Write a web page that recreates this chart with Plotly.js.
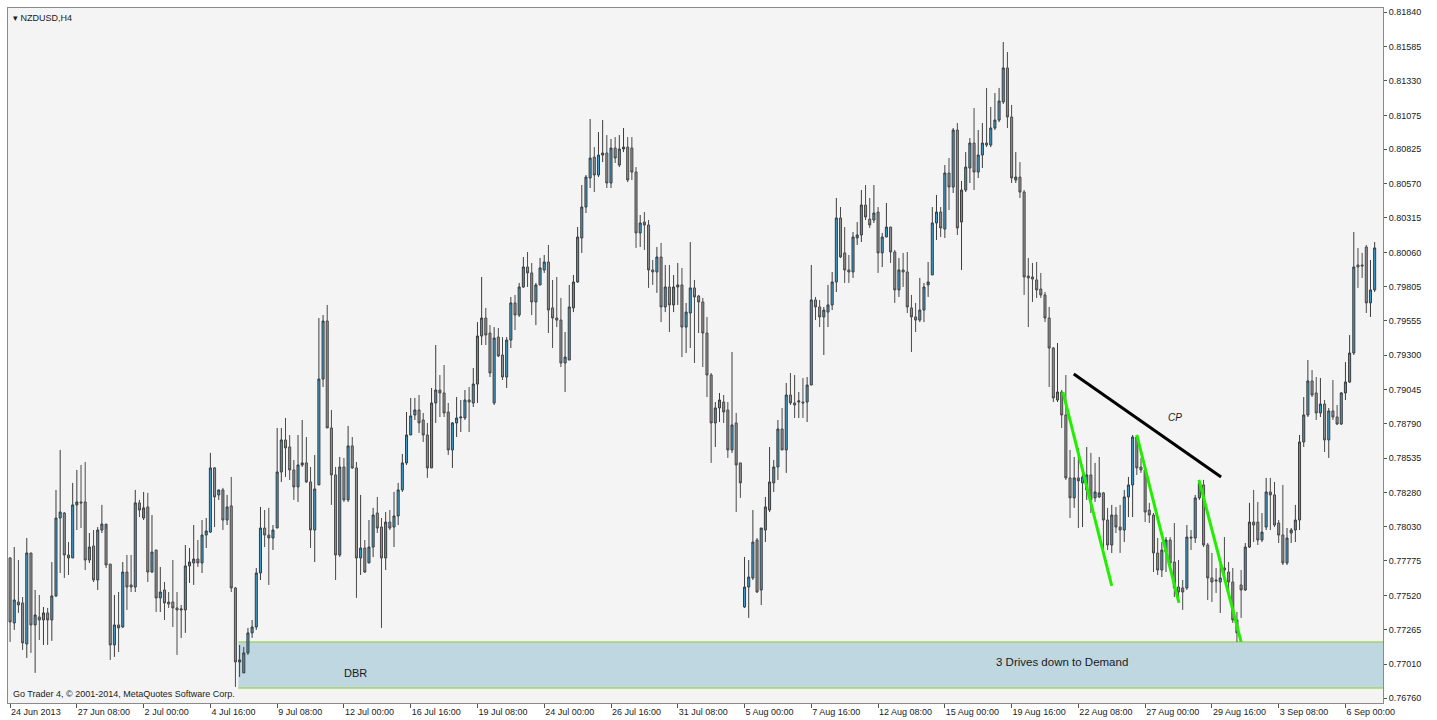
<!DOCTYPE html>
<html>
<head>
<meta charset="utf-8">
<script src="https://cdn.plot.ly/plotly-3.0.1.min.js"></script>
<style>
html,body{margin:0;padding:0;background:#ffffff;}
#chart{width:1437px;height:720px;}
</style>
</head>
<body>
<div id="chart"></div>
<script>
// NZDUSD H4 candles, 24 Jun 2013 - 6 Sep 2013 (bar index 0..327)
const openP = [
0.77797,0.77316,0.77471,0.77464,0.77160,0.77834,0.77301,0.77360,0.77338,0.77390,0.77338,0.77516,0.78093,0.78130,0.77819,0.77797,
0.78190,0.78212,0.78212,0.77782,0.77886,0.77634,0.78004,0.78048,0.77752,0.77153,0.77301,0.77286,0.77693,0.77597,0.77582,0.78205,
0.78093,0.78175,0.77693,0.77856,0.77501,0.77560,0.77471,0.77471,0.77427,0.77412,0.77412,0.77738,0.77760,0.77789,0.77760,0.77967,
0.77989,0.78464,0.78264,0.78301,0.78078,0.78183,0.77575,0.77027,0.76946,0.77094,0.77242,0.77286,0.77686,0.78019,0.77967,0.77945,
0.78019,0.78434,0.78671,0.78619,0.78449,0.78323,0.78486,0.78501,0.78360,0.78004,0.78338,0.79122,0.79552,0.78760,0.78412,0.77819,
0.78471,0.78227,0.78627,0.78464,0.77797,0.77871,0.77760,0.77878,0.78130,0.78026,0.77797,0.78063,0.78026,0.78108,0.78301,0.78501,
0.78708,0.78856,0.78893,0.78819,0.78708,0.78464,0.78945,0.79041,0.79019,0.78878,0.78597,0.78797,0.78834,0.78834,0.78967,0.78945,
0.79085,0.79441,0.79574,0.79463,0.78945,0.79433,0.79300,0.79137,0.79411,0.79686,0.79596,0.79804,0.79952,0.79908,0.79693,0.79819,
0.79930,0.79989,0.79649,0.79574,0.79559,0.79241,0.79263,0.79649,0.79841,0.80167,0.80396,0.80611,0.80766,0.80633,0.80781,0.80796,
0.80574,0.80833,0.80707,0.80826,0.80840,0.80833,0.80655,0.80204,0.80285,0.80263,0.79930,0.79915,0.80026,0.79656,0.79804,0.79671,
0.79804,0.79819,0.79507,0.79611,0.79797,0.79737,0.79693,0.79463,0.79152,0.78797,0.78908,0.78952,0.78893,0.78597,0.78797,0.78501,
0.77434,0.77582,0.77649,0.77930,0.77560,0.78004,0.78152,0.78353,0.78471,0.78752,0.78597,0.79004,0.78945,0.78952,0.78952,0.78952,
0.79078,0.79708,0.79656,0.79582,0.79618,0.79671,0.79841,0.80315,0.80056,0.79930,0.79915,0.80167,0.80189,0.80411,0.80307,0.80300,
0.80359,0.80056,0.80174,0.80248,0.80063,0.79782,0.79930,0.79915,0.79649,0.79582,0.79559,0.79633,0.79819,0.79893,0.80278,0.80359,
0.80233,0.80648,0.80544,0.80966,0.80285,0.80522,0.80685,0.80870,0.80655,0.80781,0.80870,0.80855,0.80981,0.81040,0.81174,0.81426,
0.81063,0.80596,0.80618,0.80507,0.79885,0.79878,0.79856,0.79789,0.79745,0.79574,0.79352,0.78967,0.79026,0.78856,0.78390,0.78242,
0.78390,0.78353,0.78301,0.78412,0.78242,0.78249,0.78279,0.78078,0.77893,0.78115,0.78026,0.78004,0.78249,0.78338,0.78693,0.78471,
0.78449,0.78152,0.78115,0.77834,0.77708,0.77841,0.77930,0.77767,0.77582,0.77575,0.77575,0.77952,0.77945,0.78242,0.78338,0.77893,
0.77649,0.77634,0.77619,0.77723,0.77693,0.77619,0.77338,0.77597,0.77560,0.77878,0.78063,0.78063,0.77930,0.78026,0.78286,0.78264,
0.78056,0.77967,0.77760,0.77982,0.78004,0.78078,0.78656,0.78856,0.79108,0.79019,0.78871,0.78937,0.78671,0.78886,0.78841,0.78789,
0.79019,0.79100,0.79315,0.79967,0.79967,0.80100,0.79686,0.79782
];
const highP = [
0.77804,0.77878,0.77782,0.77508,0.77945,0.77834,0.77560,0.77523,0.77434,0.77427,0.77767,0.78301,0.78597,0.78137,0.77915,0.78353,
0.78449,0.78486,0.78508,0.77982,0.78004,0.78026,0.78190,0.78011,0.77752,0.77523,0.77545,0.77767,0.77819,0.77819,0.78301,0.78227,
0.78286,0.78279,0.78115,0.77856,0.77730,0.77619,0.77545,0.77782,0.77545,0.77449,0.77893,0.77871,0.78041,0.77930,0.78078,0.78093,
0.78575,0.78471,0.78301,0.78316,0.78264,0.78397,0.77582,0.77153,0.77138,0.77279,0.77338,0.77723,0.78175,0.78152,0.78168,0.78041,
0.78760,0.78760,0.78834,0.78708,0.78523,0.78708,0.78819,0.78693,0.78471,0.78560,0.79574,0.79596,0.79671,0.78893,0.78471,0.78545,
0.78538,0.78775,0.78693,0.78508,0.78264,0.77930,0.78078,0.78168,0.78249,0.78093,0.78137,0.78152,0.78286,0.78353,0.78567,0.78878,
0.78982,0.78982,0.79004,0.78871,0.78797,0.79056,0.79374,0.79152,0.79226,0.78945,0.78804,0.78989,0.78967,0.79041,0.79063,0.79204,
0.79544,0.79878,0.79649,0.79522,0.79507,0.79500,0.79433,0.79433,0.79730,0.79745,0.79834,0.80026,0.80063,0.79982,0.79834,0.80019,
0.80041,0.80115,0.79856,0.79878,0.79723,0.79470,0.79819,0.79893,0.80248,0.80559,0.80633,0.81048,0.80840,0.80951,0.81040,0.80929,
0.80900,0.80914,0.80929,0.80981,0.80914,0.80914,0.80692,0.80337,0.80359,0.80300,0.80004,0.80100,0.80130,0.79967,0.79967,0.79893,
0.79982,0.79945,0.79686,0.80137,0.79856,0.79745,0.79723,0.79582,0.79167,0.78952,0.79019,0.79004,0.78952,0.79322,0.78871,0.78501,
0.77804,0.77782,0.78152,0.77945,0.78019,0.78249,0.78619,0.78523,0.78819,0.78908,0.79093,0.79167,0.79152,0.79026,0.79130,0.79137,
0.79967,0.79730,0.79708,0.79656,0.79819,0.79915,0.80463,0.80396,0.80248,0.80041,0.80211,0.80285,0.80522,0.80559,0.80463,0.80559,
0.80396,0.80204,0.80426,0.80248,0.80078,0.80019,0.80056,0.80063,0.79745,0.79686,0.79871,0.79834,0.79989,0.80396,0.80485,0.80396,
0.80707,0.80759,0.80981,0.81018,0.80589,0.80803,0.80907,0.81129,0.80966,0.81018,0.81278,0.81137,0.81240,0.81278,0.81618,0.81544,
0.81152,0.80803,0.80729,0.80522,0.80019,0.79982,0.79989,0.79908,0.79767,0.79656,0.79359,0.79389,0.79041,0.79152,0.78597,0.78545,
0.78612,0.78434,0.78619,0.78575,0.78501,0.78545,0.78286,0.78168,0.78190,0.78175,0.78190,0.78301,0.78397,0.78708,0.78708,0.78538,
0.78471,0.78205,0.78130,0.77945,0.77915,0.77952,0.77952,0.78056,0.77782,0.77634,0.78041,0.78004,0.78264,0.78375,0.78375,0.77908,
0.77834,0.77723,0.77782,0.77952,0.77767,0.77723,0.77397,0.77708,0.77908,0.78205,0.78301,0.78212,0.78130,0.78390,0.78390,0.78360,
0.78078,0.78338,0.78019,0.78019,0.78190,0.78708,0.78989,0.79263,0.79189,0.79137,0.79130,0.78967,0.78908,0.79115,0.78930,0.79026,
0.79248,0.79448,0.80211,0.80093,0.80056,0.80115,0.80004,0.80137
];
const lowP = [
0.77175,0.77264,0.77390,0.77116,0.77057,0.77094,0.76946,0.77190,0.77153,0.77153,0.77183,0.77508,0.77686,0.77649,0.77671,0.77797,
0.78004,0.78019,0.77708,0.77760,0.77619,0.77560,0.77982,0.77723,0.77042,0.77064,0.77101,0.77279,0.77412,0.77545,0.77545,0.78100,
0.78078,0.77619,0.77686,0.77397,0.77397,0.77338,0.77427,0.77286,0.77079,0.77205,0.77242,0.77612,0.77597,0.77730,0.77686,0.77871,
0.77982,0.78026,0.78227,0.78004,0.78041,0.77545,0.76842,0.76916,0.76946,0.77079,0.77205,0.77264,0.77634,0.77878,0.77597,0.77856,
0.78019,0.78360,0.78397,0.78375,0.78227,0.78212,0.78471,0.78353,0.77871,0.77767,0.78338,0.79063,0.78760,0.78190,0.77634,0.77804,
0.78212,0.78212,0.78456,0.77501,0.77671,0.77686,0.77760,0.77804,0.77982,0.77279,0.77708,0.78004,0.77878,0.78041,0.78286,0.78486,
0.78708,0.78819,0.78723,0.78656,0.78390,0.78464,0.78797,0.78841,0.78841,0.78560,0.78464,0.78693,0.78730,0.78819,0.78730,0.78915,
0.78945,0.79374,0.79374,0.79137,0.78930,0.79285,0.79115,0.79056,0.79352,0.79485,0.79582,0.79797,0.79804,0.79596,0.79522,0.79819,
0.79908,0.79463,0.79352,0.79507,0.79211,0.79026,0.79263,0.79618,0.79834,0.80056,0.80352,0.80537,0.80507,0.80618,0.80729,0.80537,
0.80537,0.80722,0.80692,0.80803,0.80581,0.80596,0.80093,0.80100,0.80078,0.79797,0.79819,0.79760,0.79544,0.79618,0.79470,0.79618,
0.79671,0.79285,0.79315,0.79352,0.79241,0.79463,0.79211,0.78989,0.78501,0.78619,0.78804,0.78797,0.78538,0.78575,0.78137,0.78242,
0.77427,0.77353,0.77634,0.77538,0.77449,0.77915,0.78137,0.78286,0.78375,0.78597,0.78427,0.78930,0.78834,0.78834,0.78834,0.78804,
0.79078,0.79559,0.79507,0.79300,0.79507,0.79633,0.79767,0.80019,0.79834,0.79834,0.79871,0.80115,0.80137,0.80300,0.80241,0.80278,
0.79908,0.79952,0.80174,0.79982,0.79686,0.79730,0.79804,0.79611,0.79322,0.79470,0.79544,0.79544,0.79730,0.79893,0.80152,0.80174,
0.80167,0.80374,0.80500,0.80189,0.79930,0.80507,0.80574,0.80522,0.80611,0.80685,0.80840,0.80840,0.80966,0.81025,0.81159,0.80981,
0.80574,0.80574,0.80463,0.79745,0.79507,0.79693,0.79723,0.79723,0.79544,0.79063,0.78952,0.78952,0.78760,0.78375,0.78093,0.78168,
0.78019,0.78026,0.78227,0.78130,0.78212,0.78242,0.77841,0.77856,0.77834,0.77982,0.77834,0.77915,0.78100,0.78100,0.78412,0.78427,
0.78063,0.78056,0.77693,0.77671,0.77656,0.77693,0.77708,0.77508,0.77471,0.77412,0.77560,0.77856,0.77908,0.78227,0.77878,0.77486,
0.77471,0.77538,0.77390,0.77634,0.77523,0.77316,0.77175,0.77353,0.77553,0.77871,0.77915,0.77893,0.77915,0.78004,0.78004,0.78026,
0.77908,0.77745,0.77745,0.77908,0.77915,0.78004,0.78619,0.78841,0.78989,0.78819,0.78841,0.78582,0.78538,0.78819,0.78782,0.78782,
0.78967,0.79093,0.79300,0.79797,0.79871,0.79611,0.79582,0.79767
];
const closeP = [
0.77323,0.77486,0.77449,0.77168,0.77834,0.77301,0.77375,0.77338,0.77390,0.77338,0.77516,0.78093,0.78137,0.77819,0.77797,0.78190,
0.78212,0.78205,0.77782,0.77878,0.77634,0.78004,0.78048,0.77745,0.77153,0.77301,0.77279,0.77693,0.77582,0.77582,0.78205,0.78152,
0.78168,0.77693,0.77841,0.77501,0.77545,0.77464,0.77456,0.77427,0.77412,0.77419,0.77738,0.77767,0.77789,0.77760,0.77967,0.77997,
0.78464,0.78249,0.78301,0.78078,0.78175,0.77575,0.77027,0.77042,0.77094,0.77242,0.77286,0.77686,0.78019,0.77967,0.77945,0.78004,
0.78434,0.78671,0.78612,0.78449,0.78323,0.78486,0.78501,0.78360,0.78004,0.78308,0.79122,0.79552,0.78760,0.78412,0.77819,0.78471,
0.78227,0.78627,0.78464,0.77797,0.77871,0.77693,0.77878,0.78115,0.78019,0.77797,0.78063,0.78019,0.78108,0.78301,0.78501,0.78708,
0.78849,0.78893,0.78797,0.78708,0.78464,0.78945,0.79041,0.79019,0.78871,0.78597,0.78797,0.78834,0.78841,0.78967,0.78952,0.79085,
0.79441,0.79574,0.79448,0.79167,0.79426,0.79293,0.79137,0.79411,0.79686,0.79596,0.79804,0.79952,0.79908,0.79693,0.79819,0.79945,
0.79989,0.79633,0.79574,0.79559,0.79241,0.79285,0.79656,0.79841,0.80174,0.80396,0.80618,0.80759,0.80633,0.80781,0.80796,0.80574,
0.80833,0.80759,0.80826,0.80840,0.80596,0.80655,0.80204,0.80278,0.80263,0.79930,0.79915,0.80026,0.79656,0.79804,0.79671,0.79804,
0.79819,0.79507,0.79618,0.79797,0.79730,0.79693,0.79463,0.79152,0.78797,0.78908,0.78967,0.78878,0.78597,0.78782,0.78486,0.78353,
0.77582,0.77656,0.77915,0.77545,0.78019,0.78175,0.78360,0.78471,0.78752,0.78597,0.79004,0.78945,0.78930,0.78960,0.78945,0.79078,
0.79708,0.79656,0.79582,0.79633,0.79671,0.79841,0.80315,0.80026,0.79930,0.79915,0.80174,0.80189,0.80411,0.80322,0.80263,0.80352,
0.80056,0.80174,0.80248,0.80063,0.79782,0.79930,0.79915,0.79656,0.79582,0.79559,0.79633,0.79804,0.79841,0.80278,0.80359,0.80241,
0.80648,0.80544,0.80966,0.80241,0.80522,0.80692,0.80870,0.80655,0.80781,0.80870,0.80855,0.80981,0.81040,0.81181,0.81426,0.81063,
0.80611,0.80618,0.80507,0.79878,0.79871,0.79863,0.79782,0.79745,0.79574,0.79352,0.78982,0.79026,0.78856,0.78390,0.78242,0.78390,
0.78368,0.78397,0.78412,0.78227,0.78286,0.78279,0.78078,0.77893,0.78115,0.78026,0.78004,0.78249,0.78338,0.78693,0.78464,0.78449,
0.78137,0.78115,0.77834,0.77708,0.77856,0.77930,0.77760,0.77575,0.77545,0.77545,0.77952,0.77945,0.78242,0.78353,0.77893,0.77649,
0.77619,0.77627,0.77649,0.77708,0.77619,0.77338,0.77242,0.77560,0.77878,0.78063,0.78041,0.77930,0.77989,0.78286,0.78264,0.78041,
0.77967,0.77760,0.77945,0.78004,0.78078,0.78656,0.78856,0.79108,0.79004,0.78871,0.78937,0.78671,0.78886,0.78841,0.78789,0.79019,
0.79100,0.79315,0.79952,0.79952,0.79960,0.79686,0.79782,0.80093
];

// time-axis labels (every 16 H4 bars)
const timeLabels = ["24 Jun 2013","27 Jun 08:00","2 Jul 00:00","4 Jul 16:00","9 Jul 08:00","12 Jul 00:00","16 Jul 16:00",
  "19 Jul 08:00","24 Jul 00:00","26 Jul 16:00","31 Jul 08:00","5 Aug 00:00","7 Aug 16:00","12 Aug 08:00","15 Aug 00:00",
  "19 Aug 16:00","22 Aug 08:00","27 Aug 00:00","29 Aug 16:00","3 Sep 08:00","6 Sep 00:00"];
const timeLabelBars = [0,16,32,48,64,80,96,112,128,144,160,176,192,208,224,240,256,272,288,304,320];

// price scale labels
const priceTicks = [0.81840,0.81585,0.81330,0.81075,0.80825,0.80570,0.80315,0.80060,0.79805,0.79555,0.79300,
  0.79045,0.78790,0.78535,0.78280,0.78030,0.77775,0.77520,0.77265,0.77010,0.76760];

// drawn objects (bar index, price)
const demandZone = {x0: 54.7, top: 0.77175, bottom: 0.76834};
const cpLineX = [254.9, 290.2], cpLineY = [0.79160, 0.78397];
const driveX = [[252.3, 264.0], [270.0, 280.1], [284.9, 295.0]];
const driveY = [[0.79026, 0.77590], [0.78708, 0.77464], [0.78375, 0.77175]];

const barIdx = openP.map((_, i) => i);
const X_MAX = 329;

const FONT = "Liberation Sans, Arial, sans-serif";

const traces = [{
  type: 'candlestick',
  x: barIdx, open: openP, high: highP, low: lowP, close: closeP,
  increasing: {line: {color: '#3c3c3c', width: 1}, fillcolor: '#3c9ccb'},
  decreasing: {line: {color: '#4a4a4a', width: 1}, fillcolor: '#8e8e8e'},
  whiskerwidth: 0,
  hoverinfo: 'skip',
  showlegend: false
}];

const shapes = [
  {type:'rect', xref:'x', yref:'y', x0: demandZone.x0, x1: X_MAX, y0: demandZone.bottom, y1: demandZone.top,
   fillcolor:'#bfd7e1', line:{width:0}, layer:'below'},
  {type:'line', xref:'x', yref:'y', x0: demandZone.x0, x1: X_MAX, y0: demandZone.top, y1: demandZone.top,
   line:{color:'#a5d36a', width:1.5}, layer:'below'},
  {type:'line', xref:'x', yref:'y', x0: demandZone.x0, x1: X_MAX, y0: demandZone.bottom, y1: demandZone.bottom,
   line:{color:'#a5d36a', width:1.5}, layer:'below'},
  {type:'line', xref:'x', yref:'y', x0: cpLineX[0], x1: cpLineX[1], y0: cpLineY[0], y1: cpLineY[1],
   line:{color:'#000000', width:3}}
];
driveX.forEach((xs, k) => {
  shapes.push({type:'line', xref:'x', yref:'y', x0: xs[0], x1: xs[1], y0: driveY[k][0], y1: driveY[k][1],
    line:{color:'#22ee00', width:3}});
});

const annotations = [
  {xref:'paper', yref:'paper', x:0, y:1, xanchor:'left', yanchor:'top', xshift:3, yshift:-3,
   text:'▾ NZDUSD,H4', showarrow:false, font:{family:FONT, size:9, color:'#1a1a1a'}},
  {xref:'paper', yref:'paper', x:0, y:0, xanchor:'left', yanchor:'bottom', xshift:3, yshift:2,
   text:'Go Trader 4, © 2001-2014, MetaQuotes Software Corp.', showarrow:false, font:{family:FONT, size:9, color:'#1a1a1a'}},
  {xref:'x', yref:'y', x:82.7, y:0.76946, text:'DBR', showarrow:false, font:{family:FONT, size:11, color:'#1a1a1a'}},
  {xref:'x', yref:'y', x:252, y:0.77027, text:'3 Drives down to Demand', showarrow:false, font:{family:FONT, size:11.5, color:'#1a1a1a'}},
  {xref:'x', yref:'y', x:279.1, y:0.78841, text:'<i>CP</i>', showarrow:false, font:{family:FONT, size:10, color:'#1a1a1a'}}
];

const layout = {
  width: 1437, height: 720,
  margin: {l: 8, r: 54, t: 8, b: 17, pad: 0},
  paper_bgcolor: '#ffffff',
  plot_bgcolor: '#f4f4f4',
  showlegend: false,
  dragmode: false,
  xaxis: {
    range: [-0.5, X_MAX], autorange: false, fixedrange: true,
    rangeslider: {visible: false},
    tickmode: 'array', tickvals: timeLabelBars, ticktext: timeLabels,
    ticks: 'outside', ticklen: 4, tickcolor: '#555555', tickwidth: 1,
    ticklabelposition: 'outside right',
    tickfont: {family: FONT, size: 9, color: '#1a1a1a'},
    showgrid: false, zeroline: false,
    showline: true, mirror: true, linecolor: '#8a8a8a', linewidth: 1
  },
  yaxis: {
    side: 'right',
    range: [0.76723, 0.81870], autorange: false, fixedrange: true,
    tickmode: 'array', tickvals: priceTicks, ticktext: priceTicks.map(v => v.toFixed(5)),
    ticks: 'outside', ticklen: 3, tickcolor: '#555555', tickwidth: 1,
    tickfont: {family: FONT, size: 9, color: '#1a1a1a'},
    showgrid: false, zeroline: false,
    showline: true, mirror: true, linecolor: '#8a8a8a', linewidth: 1
  },
  shapes: shapes,
  annotations: annotations
};

Plotly.newPlot('chart', traces, layout, {displayModeBar: false, staticPlot: true});
</script>
</body>
</html>
